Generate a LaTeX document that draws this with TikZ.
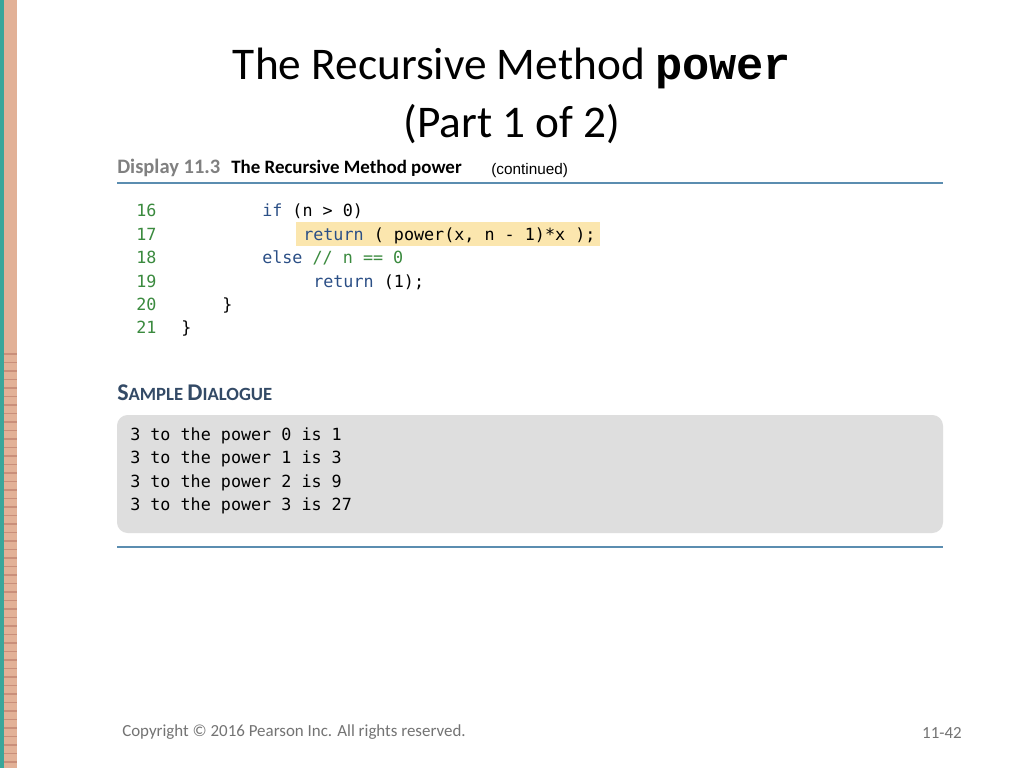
\documentclass[tikz,border=0pt]{standalone}
\usepackage{fontspec}
\setmainfont{Carlito}
\newfontfamily\codef{DejaVu Sans Mono}
\newfontfamily\courb{Liberation Mono}
\newfontfamily\arialf{Liberation Sans}
\definecolor{teal1}{HTML}{3AA69A}
\definecolor{salmon}{HTML}{E2B197}
\definecolor{tick}{HTML}{C98F7A}
\definecolor{rulec}{HTML}{5B8DB0}
\definecolor{numc}{HTML}{3A8A3E}
\definecolor{kw}{HTML}{2B4F86}
\definecolor{hl}{HTML}{FBE6AE}
\definecolor{boxg}{HTML}{DEDEDE}
\definecolor{sdc}{HTML}{334A66}
\begin{document}
\begin{tikzpicture}[x=0.75pt,y=-0.75pt,
  code/.style={anchor=base west,inner sep=0,font=\codef\fontsize{12.55pt}{14pt}\selectfont},
  num/.style={code,text=numc},
  ftr/.style={font=\fontsize{12.7pt}{14pt}\selectfont,text=black!55,inner sep=0}]
\useasboundingbox (0,0) rectangle (1024,768);
\fill[white] (0,0) rectangle (1024,768);
\fill[salmon] (4,0) rectangle (17,768);
\fill[teal1] (0,0) rectangle (4,768);
\foreach \i in {0,...,48} \fill[tick] (4,{353+\i*8.5}) rectangle (17,{354.5+\i*8.5});
\node[font=\fontsize{34pt}{40pt}\selectfont,anchor=center] (t1) at (512,68) {The Recursive Method {\courb\bfseries power}};
\node[font=\fontsize{34pt}{40pt}\selectfont,anchor=center] (t2) at (512,124) {(Part 1 of 2)};
\node[anchor=base west,inner sep=0,font=\bfseries\fontsize{15.4pt}{17pt}\selectfont,text=black!50] (d1) at (117,173) {Display 11.3};
\node[anchor=base west,inner sep=0,font=\bfseries\fontsize{14.2pt}{17pt}\selectfont] (d2) at (231,173) {The Recursive Method power};
\node[anchor=base west,inner sep=0,font=\arialf\fontsize{11.5pt}{13pt}\selectfont] (d3) at (491,174) {(continued)};
\draw[rulec,line width=0.9pt] (117,183) -- (943,183);
\fill[hl] (296,222) rectangle (600,246);
\node[num] (n16) at (136,216) {16};
\node[num] (n17) at (136,240) {17};
\node[num] (n18) at (136,263) {18};
\node[num] (n19) at (136,287) {19};
\node[num] (n20) at (136,310) {20};
\node[num] (n21) at (136,333) {21};
\node[code,text=kw] (c16) at (262,216) {if {\color{black}(n > 0)}};
\node[code,text=kw] (c17) at (303,240) {return {\color{black}( power(x, n - 1)*x );}};
\node[code,text=kw] (c18) at (262,263) {else {\color{numc}// n == 0}};
\node[code,text=kw] (c19) at (313,287) {return {\color{black}(1);}};
\node[code] (c20) at (222,310) {\}};
\node[code] (c21) at (181,333) {\}};
\node[anchor=base west,inner sep=0,text=sdc,font=\bfseries\fontsize{18pt}{20pt}\selectfont] (sd) at (117,400) {S\fontsize{14pt}{16pt}\selectfont AMPLE \fontsize{18pt}{20pt}\selectfont D\fontsize{14pt}{16pt}\selectfont IALOGUE};
\fill[boxg,rounded corners=8pt] (117,415) rectangle (943,533);
\node[code] (s1) at (130,440) {3 to the power 0 is 1};
\node[code] (s2) at (130,463) {3 to the power 1 is 3};
\node[code] (s3) at (130,487) {3 to the power 2 is 9};
\node[code] (s4) at (130,510) {3 to the power 3 is 27};
\draw[rulec,line width=0.9pt] (117,547) -- (943,547);
\node[ftr,anchor=base west] (cp) at (122,736) {Copyright © 2016 Pearson Inc. All rights reserved.};
\node[ftr,anchor=base east] (pg) at (962,738) {11-42};
\end{tikzpicture}
\end{document}
